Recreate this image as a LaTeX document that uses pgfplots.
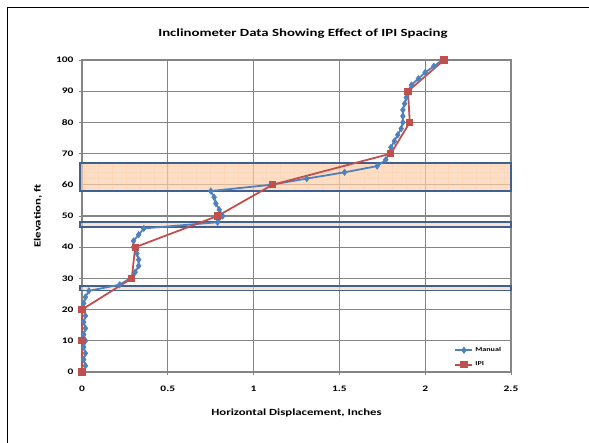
\documentclass[border=0pt]{standalone}
\usepackage{pgfplots}
\pgfplotsset{compat=1.18}
\usepackage{fontspec}
\setmainfont{Carlito}[FakeStretch=1.35]
\usetikzlibrary{patterns}
\definecolor{manualblue}{HTML}{4F81BD}
\definecolor{ipired}{HTML}{C0504D}
\definecolor{boxblue}{HTML}{3F6090}
\definecolor{boxfill}{HTML}{FBD0AC}
\definecolor{boxgrid}{HTML}{F5AE7A}
\definecolor{gridgray}{HTML}{858585}
\pgfdeclarepatternformonly{ipigrid}{\pgfpointorigin}{\pgfpoint{14bp}{6bp}}{\pgfpoint{14bp}{6bp}}{%
  \pgfsetlinewidth{0.45bp}%
  \pgfpathmoveto{\pgfpointorigin}\pgfpathlineto{\pgfpoint{14bp}{0bp}}%
  \pgfpathmoveto{\pgfpointorigin}\pgfpathlineto{\pgfpoint{0bp}{6bp}}%
  \pgfusepath{stroke}}
\begin{document}
\begin{tikzpicture}
\useasboundingbox (0bp,0bp) rectangle (589bp,443bp);
\draw[line width=1.6bp,black] (7.5bp,0bp) -- (7.5bp,435.5bp) -- (589bp,435.5bp);
\begin{axis}[
  at={(82bp,71bp)}, anchor=south west,
  width=429bp, height=312bp, scale only axis,
  xmin=0, xmax=2.5, ymin=0, ymax=100,
  xtick={0,0.5,...,2.5}, ytick={0,10,...,100},
  grid=major,
  major grid style={gridgray, line width=1.1bp},
  axis line style={gridgray, line width=1.1bp},
  tick style={gridgray, line width=0.9bp},
  tick align=outside, major tick length=3bp,
  xtick pos=left, ytick pos=left,
  clip=false,
  /pgf/number format/assume math mode=true,
  ticklabel style={font=\bfseries\fontsize{8.5}{9}\selectfont},
  xticklabel style={yshift=-7bp},
  yticklabel style={xshift=-2bp},
  title={Inclinometer Data Showing Effect of IPI Spacing},
  title style={font=\bfseries\fontsize{11}{13}\selectfont, at={(axis description cs:0.515,1.067)}, anchor=center},
  xlabel={Horizontal Displacement, Inches},
  xlabel style={font=\bfseries\fontsize{9.5}{11}\selectfont, at={(axis description cs:0.5,-0.131)}, anchor=center},
  ylabel={Elevation, ft},
  ylabel style={font=\bfseries\fontsize{9.5}{11}\selectfont, at={(axis description cs:-0.103,0.5)}, anchor=center},
  legend style={at={(axis cs:2.17,8.6)}, anchor=north west, draw=none, fill=none,
    font=\bfseries\fontsize{6}{7}\selectfont, row sep=5bp, inner sep=0pt},
  legend cell align=left,
]
% highlighted zones
\fill[boxfill, fill opacity=0.7] (axis cs:-0.012,58) rectangle (axis cs:2.5,67);
\fill[pattern=ipigrid, pattern color=boxgrid] (axis cs:-0.012,58) rectangle (axis cs:2.5,67);
\fill[boxfill, fill opacity=0.6] (axis cs:-0.012,46.5) rectangle (axis cs:2.5,48.1);
\fill[boxfill, fill opacity=0.6] (axis cs:-0.012,26.1) rectangle (axis cs:2.5,27.5);
\draw[boxblue, line width=1.4bp] (axis cs:-0.012,58) rectangle (axis cs:2.5,67);
\draw[boxblue, line width=1.4bp] (axis cs:-0.012,46.5) rectangle (axis cs:2.5,48.1);
\draw[boxblue, line width=1.4bp] (axis cs:-0.012,26.1) rectangle (axis cs:2.5,27.5);
% Manual readings
\addplot[manualblue, line width=1.8bp, mark=diamond*, mark size=2.2bp, mark options={solid, fill=manualblue}] coordinates {
(0.01,0) (0.02,2) (0.01,4) (0.02,6) (0.01,8) (0.02,10) (0.01,12) (0.02,14) (0.01,16) (0.02,18)
(0.01,20) (0.01,22) (0.02,24) (0.04,26) (0.22,28) (0.28,30) (0.31,32) (0.33,34) (0.33,36) (0.32,38)
(0.30,40) (0.30,42) (0.33,44) (0.36,46) (0.79,48) (0.82,50) (0.80,52) (0.78,54) (0.77,56) (0.75,58)
(1.10,60) (1.31,62) (1.53,64) (1.72,66) (1.77,68) (1.79,70) (1.80,72) (1.82,74) (1.84,76) (1.86,78)
(1.87,80) (1.87,82) (1.87,84) (1.88,86) (1.89,88) (1.90,90) (1.92,92) (1.96,94) (2.00,96) (2.05,98)
(2.10,100)
};
\addlegendentry{Manual}
% IPI readings
\addplot[ipired, line width=1.8bp, mark=square*, mark size=2.7bp, mark options={solid, fill=ipired}] coordinates {
(0,0) (0,10) (0,20) (0.29,30) (0.31,40) (0.79,50) (1.11,60) (1.80,70) (1.91,80) (1.90,90) (2.11,100)
};
\addlegendentry{IPI}
\end{axis}
\end{tikzpicture}
\end{document}
